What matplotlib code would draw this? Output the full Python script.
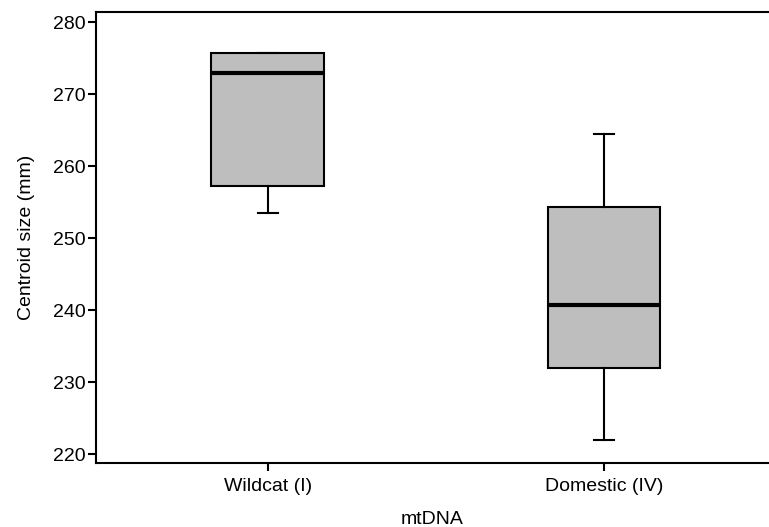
import matplotlib
matplotlib.use("Agg")
import matplotlib.pyplot as plt

plt.rcParams['font.family'] = ['Liberation Sans', 'DejaVu Sans']

# box plot summaries
groups = ['Wildcat (I)', 'Domestic (IV)']
whis_low = [253.5, 222.0]
q1 = [257.2, 232.0]
medians = [272.9, 240.7]
q3 = [275.7, 254.4]
whis_high = [275.7, 264.4]

stats = []
for i, name in enumerate(groups):
    stats.append({'label': name, 'whislo': whis_low[i], 'q1': q1[i],
                  'med': medians[i], 'q3': q3[i], 'whishi': whis_high[i],
                  'fliers': []})

fig = plt.figure(figsize=(7.69, 5.27), dpi=100)
ax = fig.add_axes([96 / 769, 64 / 527, 673 / 769, 451 / 527])

ax.bxp(stats, positions=[1, 2], widths=0.335, patch_artist=True,
       showfliers=False,
       boxprops=dict(facecolor='#bebebe', edgecolor='black', linewidth=1.5),
       medianprops=dict(color='black', linewidth=3),
       whiskerprops=dict(color='black', linewidth=1.5),
       capprops=dict(color='black', linewidth=1.5),
       capwidths=0.06)

ax.set_xlim(0.49, 2.49)
ax.set_ylim(218.8, 281.4)
ax.set_yticks([220, 230, 240, 250, 260, 270, 280])
ax.set_ylabel('Centroid size (mm)', fontsize=14, labelpad=13)
ax.set_xlabel('mtDNA', fontsize=14, labelpad=11)
ax.tick_params(axis='both', labelsize=14, length=6, width=1.5, direction='out')
ax.tick_params(axis='y', pad=1.5)
ax.tick_params(axis='x', pad=5)
for s in ax.spines.values():
    s.set_linewidth(1.5)
ax.spines['right'].set_visible(False)

fig.savefig('out.png', dpi=100)
